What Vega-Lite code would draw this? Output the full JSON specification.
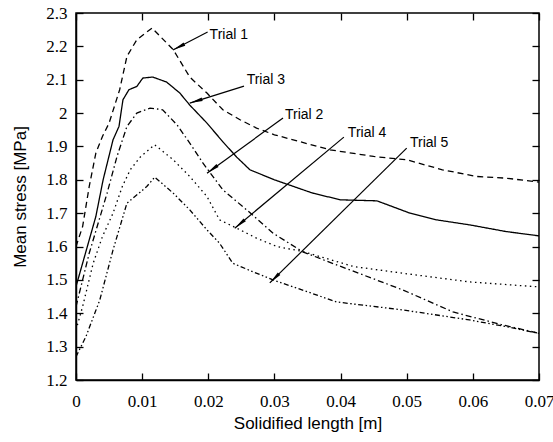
{
  "$schema": "https://vega.github.io/schema/vega-lite/v6.json",
  "width": 463,
  "height": 367,
  "autosize": {"type": "none"},
  "padding": {"left": 76, "top": 13, "right": 14, "bottom": 62},
  "background": "white",
  "config": {
    "view": {"stroke": "black", "strokeWidth": 1.5},
    "axis": {"grid": false, "domainColor": "black", "tickColor": "black", "labelColor": "black", "titleColor": "black", "labelFont": "Liberation Serif", "labelFontSize": 17, "titleFont": "Liberation Sans", "titleFontSize": 17, "titleFontWeight": "normal", "domainWidth": 1.5, "tickWidth": 1.3}
  },
  "datasets": {
    "curves": [
      {"trial": "Trial 1", "x": 0, "y": 1.6},
      {"trial": "Trial 1", "x": 0.001, "y": 1.66},
      {"trial": "Trial 1", "x": 0.002, "y": 1.78},
      {"trial": "Trial 1", "x": 0.003, "y": 1.88},
      {"trial": "Trial 1", "x": 0.004, "y": 1.93},
      {"trial": "Trial 1", "x": 0.005, "y": 1.97},
      {"trial": "Trial 1", "x": 0.0066, "y": 2.07},
      {"trial": "Trial 1", "x": 0.0077, "y": 2.17},
      {"trial": "Trial 1", "x": 0.0092, "y": 2.22},
      {"trial": "Trial 1", "x": 0.0115, "y": 2.255},
      {"trial": "Trial 1", "x": 0.0147, "y": 2.19},
      {"trial": "Trial 1", "x": 0.0172, "y": 2.108},
      {"trial": "Trial 1", "x": 0.0198, "y": 2.06},
      {"trial": "Trial 1", "x": 0.0222, "y": 2.01},
      {"trial": "Trial 1", "x": 0.0248, "y": 1.98},
      {"trial": "Trial 1", "x": 0.0273, "y": 1.955},
      {"trial": "Trial 1", "x": 0.03, "y": 1.935},
      {"trial": "Trial 1", "x": 0.0384, "y": 1.89},
      {"trial": "Trial 1", "x": 0.045, "y": 1.87},
      {"trial": "Trial 1", "x": 0.05, "y": 1.86},
      {"trial": "Trial 1", "x": 0.0554, "y": 1.83},
      {"trial": "Trial 1", "x": 0.0606, "y": 1.81},
      {"trial": "Trial 1", "x": 0.065, "y": 1.805},
      {"trial": "Trial 1", "x": 0.07, "y": 1.793},
      {"trial": "Trial 3", "x": 0, "y": 1.48},
      {"trial": "Trial 3", "x": 0.001, "y": 1.55},
      {"trial": "Trial 3", "x": 0.002, "y": 1.62},
      {"trial": "Trial 3", "x": 0.003, "y": 1.69},
      {"trial": "Trial 3", "x": 0.0041, "y": 1.8},
      {"trial": "Trial 3", "x": 0.0056, "y": 1.92},
      {"trial": "Trial 3", "x": 0.0065, "y": 1.96},
      {"trial": "Trial 3", "x": 0.0071, "y": 2.04},
      {"trial": "Trial 3", "x": 0.008, "y": 2.07},
      {"trial": "Trial 3", "x": 0.0092, "y": 2.08},
      {"trial": "Trial 3", "x": 0.0101, "y": 2.105},
      {"trial": "Trial 3", "x": 0.0116, "y": 2.108},
      {"trial": "Trial 3", "x": 0.0137, "y": 2.093},
      {"trial": "Trial 3", "x": 0.0157, "y": 2.06},
      {"trial": "Trial 3", "x": 0.0172, "y": 2.024},
      {"trial": "Trial 3", "x": 0.0198, "y": 1.97},
      {"trial": "Trial 3", "x": 0.0222, "y": 1.914},
      {"trial": "Trial 3", "x": 0.0243, "y": 1.868},
      {"trial": "Trial 3", "x": 0.0263, "y": 1.83},
      {"trial": "Trial 3", "x": 0.03, "y": 1.8},
      {"trial": "Trial 3", "x": 0.0358, "y": 1.76},
      {"trial": "Trial 3", "x": 0.04, "y": 1.74},
      {"trial": "Trial 3", "x": 0.0455, "y": 1.737},
      {"trial": "Trial 3", "x": 0.0505, "y": 1.7},
      {"trial": "Trial 3", "x": 0.0545, "y": 1.68},
      {"trial": "Trial 3", "x": 0.0595, "y": 1.665},
      {"trial": "Trial 3", "x": 0.065, "y": 1.645},
      {"trial": "Trial 3", "x": 0.07, "y": 1.632},
      {"trial": "Trial 2", "x": 0, "y": 1.42},
      {"trial": "Trial 2", "x": 0.001, "y": 1.5},
      {"trial": "Trial 2", "x": 0.002, "y": 1.58},
      {"trial": "Trial 2", "x": 0.0035, "y": 1.68},
      {"trial": "Trial 2", "x": 0.0047, "y": 1.76},
      {"trial": "Trial 2", "x": 0.0062, "y": 1.87},
      {"trial": "Trial 2", "x": 0.0077, "y": 1.96},
      {"trial": "Trial 2", "x": 0.0092, "y": 2.0},
      {"trial": "Trial 2", "x": 0.0112, "y": 2.015},
      {"trial": "Trial 2", "x": 0.0131, "y": 2.01},
      {"trial": "Trial 2", "x": 0.0153, "y": 1.964},
      {"trial": "Trial 2", "x": 0.0172, "y": 1.91},
      {"trial": "Trial 2", "x": 0.0192, "y": 1.85},
      {"trial": "Trial 2", "x": 0.0222, "y": 1.77},
      {"trial": "Trial 2", "x": 0.0258, "y": 1.71},
      {"trial": "Trial 2", "x": 0.0298, "y": 1.64},
      {"trial": "Trial 2", "x": 0.0343, "y": 1.584},
      {"trial": "Trial 2", "x": 0.0394, "y": 1.545},
      {"trial": "Trial 2", "x": 0.0494, "y": 1.47},
      {"trial": "Trial 2", "x": 0.057, "y": 1.404},
      {"trial": "Trial 2", "x": 0.0645, "y": 1.365},
      {"trial": "Trial 2", "x": 0.07, "y": 1.34},
      {"trial": "Trial 4", "x": 0, "y": 1.35},
      {"trial": "Trial 4", "x": 0.001, "y": 1.42},
      {"trial": "Trial 4", "x": 0.0026, "y": 1.55},
      {"trial": "Trial 4", "x": 0.004, "y": 1.63},
      {"trial": "Trial 4", "x": 0.0056, "y": 1.7},
      {"trial": "Trial 4", "x": 0.007, "y": 1.78},
      {"trial": "Trial 4", "x": 0.0082, "y": 1.83},
      {"trial": "Trial 4", "x": 0.0097, "y": 1.868},
      {"trial": "Trial 4", "x": 0.0119, "y": 1.905},
      {"trial": "Trial 4", "x": 0.0147, "y": 1.86},
      {"trial": "Trial 4", "x": 0.0172, "y": 1.81},
      {"trial": "Trial 4", "x": 0.0198, "y": 1.75},
      {"trial": "Trial 4", "x": 0.0217, "y": 1.68},
      {"trial": "Trial 4", "x": 0.0243, "y": 1.655},
      {"trial": "Trial 4", "x": 0.0273, "y": 1.625},
      {"trial": "Trial 4", "x": 0.0304, "y": 1.6},
      {"trial": "Trial 4", "x": 0.0343, "y": 1.585},
      {"trial": "Trial 4", "x": 0.042, "y": 1.54},
      {"trial": "Trial 4", "x": 0.0494, "y": 1.52},
      {"trial": "Trial 4", "x": 0.0595, "y": 1.494},
      {"trial": "Trial 4", "x": 0.07, "y": 1.479},
      {"trial": "Trial 5", "x": 0, "y": 1.27},
      {"trial": "Trial 5", "x": 0.0015, "y": 1.33},
      {"trial": "Trial 5", "x": 0.0036, "y": 1.44},
      {"trial": "Trial 5", "x": 0.0056, "y": 1.59},
      {"trial": "Trial 5", "x": 0.0077, "y": 1.73},
      {"trial": "Trial 5", "x": 0.0097, "y": 1.763},
      {"trial": "Trial 5", "x": 0.0107, "y": 1.78},
      {"trial": "Trial 5", "x": 0.0119, "y": 1.808},
      {"trial": "Trial 5", "x": 0.0147, "y": 1.76},
      {"trial": "Trial 5", "x": 0.0172, "y": 1.71},
      {"trial": "Trial 5", "x": 0.0198, "y": 1.65},
      {"trial": "Trial 5", "x": 0.0217, "y": 1.61},
      {"trial": "Trial 5", "x": 0.0237, "y": 1.55},
      {"trial": "Trial 5", "x": 0.0268, "y": 1.524},
      {"trial": "Trial 5", "x": 0.0298, "y": 1.5},
      {"trial": "Trial 5", "x": 0.0394, "y": 1.434},
      {"trial": "Trial 5", "x": 0.0494, "y": 1.41},
      {"trial": "Trial 5", "x": 0.0595, "y": 1.38},
      {"trial": "Trial 5", "x": 0.065, "y": 1.36},
      {"trial": "Trial 5", "x": 0.07, "y": 1.34}
    ],
    "notes": [
      {"label": "Trial 1", "tx": 0.0202, "ty": 2.234, "x": 0.0199, "y": 2.243, "x2": 0.01465, "y2": 2.189},
      {"label": "Trial 3", "tx": 0.0258, "ty": 2.099, "x": 0.0254, "y": 2.081, "x2": 0.0172, "y2": 2.03},
      {"label": "Trial 2", "tx": 0.0316, "ty": 1.994, "x": 0.0313, "y": 1.985, "x2": 0.0198, "y2": 1.82},
      {"label": "Trial 4", "tx": 0.0411, "ty": 1.94, "x": 0.0405, "y": 1.928, "x2": 0.024, "y2": 1.655},
      {"label": "Trial 5", "tx": 0.0505, "ty": 1.91, "x": 0.05, "y": 1.895, "x2": 0.0293, "y2": 1.491}
    ]
  },
  "layer": [
    {
      "data": {"name": "curves"},
      "mark": {"type": "line", "color": "black", "strokeWidth": 1.3, "clip": true},
      "encoding": {
        "x": {"field": "x", "type": "quantitative", "scale": {"domain": [0, 0.07], "nice": false, "zero": false},
              "axis": {"orient": "bottom", "title": "Solidified length [m]", "values": [0, 0.01, 0.02, 0.03, 0.04, 0.05, 0.06, 0.07], "format": "~g", "tickSize": -7, "labelPadding": 20, "titlePadding": 6, "labelFlush": false}},
        "y": {"field": "y", "type": "quantitative", "scale": {"domain": [1.2, 2.3], "nice": false, "zero": false},
              "axis": {"orient": "left", "title": "Mean stress [MPa]", "values": [1.2, 1.3, 1.4, 1.5, 1.6, 1.7, 1.8, 1.9, 2, 2.1, 2.2, 2.3], "format": "~g", "tickSize": -7, "labelPadding": 16, "titlePadding": 16, "labelFlush": false}},
        "detail": {"field": "trial"},
        "strokeDash": {"field": "trial", "type": "nominal", "legend": null,
                       "scale": {"domain": ["Trial 1", "Trial 2", "Trial 3", "Trial 4", "Trial 5"],
                                 "range": [[6, 4], [6, 3, 1.5, 3], [1, 0], [1.5, 3.5], [5, 2.5, 1.5, 2.5, 1.5, 2.5]]}}
      }
    },
    {
      "data": {"name": "notes"},
      "mark": {"type": "rule", "color": "black", "strokeWidth": 1.2},
      "encoding": {
        "x": {"field": "x", "type": "quantitative", "axis": null},
        "y": {"field": "y", "type": "quantitative", "axis": null},
        "x2": {"field": "x2"},
        "y2": {"field": "y2"}
      }
    },
    {
      "data": {"name": "notes"},
      "transform": [
        {"calculate": "atan2((datum.x2 - datum.x) * 463 / 0.07, (datum.y2 - datum.y) * 367 / 1.1) * 180 / PI", "as": "dir"}
      ],
      "mark": {"type": "point", "filled": true, "color": "black", "opacity": 1, "strokeWidth": 0, "size": 16,
               "shape": "M0,0L0.9,6.5L-0.9,6.5Z"},
      "encoding": {
        "x": {"field": "x2", "type": "quantitative", "axis": null},
        "y": {"field": "y2", "type": "quantitative", "axis": null},
        "angle": {"field": "dir", "type": "quantitative", "scale": null}
      }
    },
    {
      "data": {"name": "notes"},
      "mark": {"type": "text", "align": "left", "baseline": "middle", "font": "Liberation Sans", "fontSize": 14, "color": "black"},
      "encoding": {
        "x": {"field": "tx", "type": "quantitative",
              "axis": {"orient": "top", "title": null, "labels": false, "values": [0, 0.01, 0.02, 0.03, 0.04, 0.05, 0.06, 0.07], "tickSize": -7, "domain": false}},
        "y": {"field": "ty", "type": "quantitative",
              "axis": {"orient": "right", "title": null, "labels": false, "values": [1.2, 1.3, 1.4, 1.5, 1.6, 1.7, 1.8, 1.9, 2, 2.1, 2.2, 2.3], "tickSize": -7, "domain": false}},
        "text": {"field": "label"}
      }
    }
  ],
  "resolve": {"axis": {"x": "independent", "y": "independent"}}
}
